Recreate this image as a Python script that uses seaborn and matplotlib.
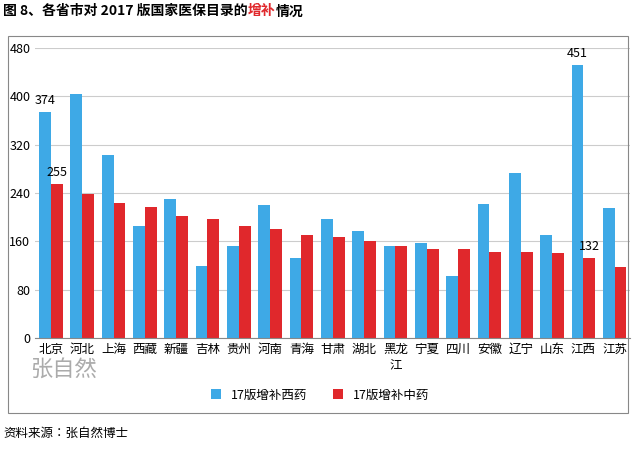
import matplotlib
matplotlib.use("Agg")
import matplotlib.pyplot as plt
import seaborn as sns
import pandas as pd
from matplotlib.patches import Rectangle
from matplotlib import font_manager as fm

names = {f.name for f in fm.fontManager.ttflist}
cjk = [n for n in ["Noto Sans CJK SC","Noto Sans CJK JP","Noto Sans CJK TC","Noto Sans CJK KR"] if n in names]
plt.rcParams["font.family"] = cjk + ["DejaVu Sans"]

provinces = ["北京","河北","上海","西藏","新疆","吉林","贵州","河南","青海","甘肃","湖北","黑龙\n江","宁夏","四川","安徽","辽宁","山东","江西","江苏"]
west = [374,403,303,185,230,120,153,220,132,197,177,152,158,102,222,273,170,451,215]
chinese = [255,238,223,217,202,197,185,180,170,168,160,152,147,147,142,142,140,132,117]
series = ["17版增补西药","17版增补中药"]
yticks = [0,80,160,240,320,400,480]

df = pd.DataFrame({"省": provinces*2, "值": west+chinese,
                   "类": [series[0]]*len(provinces)+[series[1]]*len(provinces)})

fig = plt.figure(figsize=(6.4,4.54), dpi=100)
ax = fig.add_axes([0.055,0.255,0.93,0.64])
sns.barplot(data=df, x="省", y="值", hue="类", palette=["#3ea9e6","#e0282c"],
            saturation=1, width=0.75, gap=0.0, ax=ax, legend=True)
ax.set_ylim(0,480)
ax.set_yticks(yticks)
ax.set_xlabel(""); ax.set_ylabel("")
ax.grid(axis="y", color="#cccccc", lw=0.8)
ax.set_axisbelow(True)
for s in ["top","right","left"]:
    ax.spines[s].set_visible(False)
ax.spines["bottom"].set_color("#888888")
ax.tick_params(axis="both", length=0, labelsize=9)
ax.set_xlim(-0.5,len(provinces)-0.5)
h, l = ax.get_legend_handles_labels()
ax.get_legend().remove()
fig.legend(h, l, loc="center", bbox_to_anchor=(0.5,0.13), ncol=2, frameon=False, fontsize=9,
           handlelength=0.8, handleheight=0.8)
for i in [0,17]:
    ax.text(i-0.19, west[i]+8, str(west[i]), ha="center", va="bottom", fontsize=9)
    ax.text(i+0.19, chinese[i]+8, str(chinese[i]), ha="center", va="bottom", fontsize=9)
ax.text(0.4, -62, "张自然", fontsize=16, color="#888888", alpha=0.7, ha="center")

fig.patches.append(Rectangle((0.012,0.09),0.97,0.83, transform=fig.transFigure,
                             fill=False, ec="#888888", lw=0.8))
t1 = fig.text(0.005,0.975,"图 8、各省市对 2017 版国家医保目录的", fontsize=10, fontweight="bold", va="center")
fig.canvas.draw()
bb = t1.get_window_extent().transformed(fig.transFigure.inverted())
t2 = fig.text(bb.x1,0.975,"增补", fontsize=10, fontweight="bold", color="#e0282c", va="center")
bb2 = t2.get_window_extent(fig.canvas.get_renderer()).transformed(fig.transFigure.inverted())
fig.text(bb2.x1,0.975,"情况", fontsize=10, fontweight="bold", va="center")
fig.text(0.005,0.045,"资料来源：张自然博士", fontsize=9, va="center")
fig.savefig("out.png", dpi=100)
